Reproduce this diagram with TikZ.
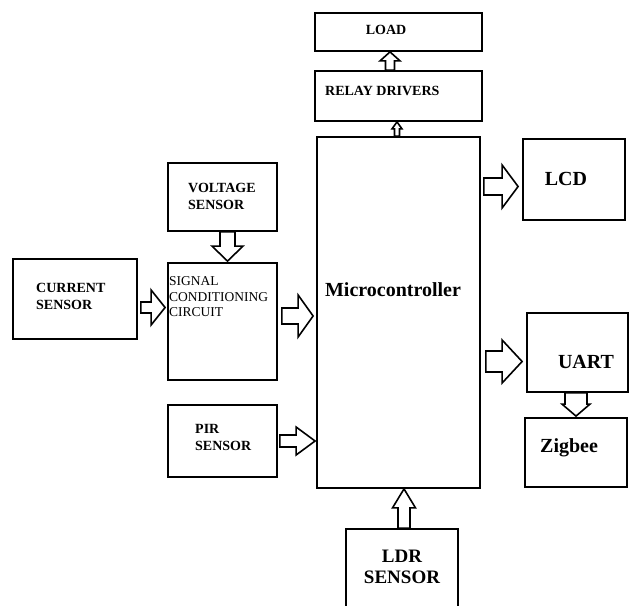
\documentclass[tikz,border=0pt]{standalone}
\usepackage{fontspec}
\setmainfont{Liberation Serif}
\usetikzlibrary{calc}

% hollow block arrow: start, end, half shaft, half head, head length (pt)
\newcommand{\blockarrow}[5]{%
  \draw[barr] let \p1=(#1), \p2=(#2),
    \n1={atan2(\y2-\y1,\x2-\x1)}, \n2={veclen(\x2-\x1,\y2-\y1)} in
    ($(\p1)+(\n1+90:#3pt)$) -- ++(\n1:\n2-#5pt) -- ++(\n1+90:#4pt-#3pt) -- (\p2)
    -- ($(\p2)+(\n1+180:#5pt)+(\n1-90:#4pt)$) -- ++(\n1+90:#4pt-#3pt)
    -- ($(\p1)+(\n1-90:#3pt)$) -- cycle;
}

\begin{document}
\begin{tikzpicture}[
  x=1pt, y=-1pt,
  blk/.style={draw=black, line width=1.8pt, inner sep=0pt},
  barr/.style={draw=black, line width=1.6pt, fill=white, line join=miter},
  lbl/.style={font=\fontsize{14}{17}\selectfont\bfseries, inner sep=0pt, align=left},
  big/.style={font=\fontsize{20}{21}\selectfont\bfseries, inner sep=0pt},
  sig/.style={font=\fontsize{13.5}{15.5}\selectfont, inner sep=0pt, align=left}
]
\fill[white] (0,0) rectangle (631,605);
\useasboundingbox (0,0) rectangle (631,605);
\clip (0,0) rectangle (631,605);

% ---- boxes ----
\node[blk, minimum width=167pt, minimum height=38pt]  (load)    at (398.5,32)  {};
\node[blk, minimum width=167pt, minimum height=50pt]  (relay)   at (398.5,96)  {};
\node[blk, minimum width=163pt, minimum height=351pt] (micro)   at (398.5,312.5) {};
\node[blk, minimum width=102pt, minimum height=81pt]  (lcd)     at (574,179.5) {};
\node[blk, minimum width=101pt, minimum height=79pt]  (uart)    at (577.5,352.5) {};
\node[blk, minimum width=102pt, minimum height=69pt]  (zigbee)  at (576,452.5) {};
\node[blk, minimum width=112pt, minimum height=86pt]  (ldr)     at (402,572)   {};
\node[blk, minimum width=109pt, minimum height=68pt]  (voltage) at (222.5,197) {};
\node[blk, minimum width=109pt, minimum height=117pt] (signal)  at (222.5,321.5) {};
\node[blk, minimum width=124pt, minimum height=80pt]  (current) at (75,299)    {};
\node[blk, minimum width=109pt, minimum height=72pt]  (pir)     at (222.5,441) {};

% ---- texts ----
\node[lbl, anchor=base]      (loadtxt)    at (386,34)    {LOAD};
\node[lbl, anchor=base west] (relaytxt)   at (325,95)    {RELAY DRIVERS};
\node[lbl, anchor=west]      (voltagetxt) at (188,196.5) {VOLTAGE\\SENSOR};
\node[sig, anchor=west]      (signaltxt)  at (169,297)   {SIGNAL\\CONDITIONING\\CIRCUIT};
\node[lbl, anchor=west]      (currenttxt) at (36,296.5)  {CURRENT\\SENSOR};
\node[lbl, anchor=west]      (pirtxt)     at (195,437.5) {PIR\\SENSOR};
\node[big, anchor=base]      (microtxt)   at (393,296)   {Microcontroller};
\node[big, anchor=base]      (lcdtxt)     at (566,185)   {LCD};
\node[big, anchor=base]      (uarttxt)    at (586,368)   {UART};
\node[big, anchor=base west] (zigbeetxt)  at (540,452)   {Zigbee};
\node[big, align=center, font=\fontsize{19}{21}\selectfont\bfseries]
                             (ldrtxt)     at (402,566.5) {LDR\\SENSOR};

% ---- block arrows ----
\blockarrow{$(relay.north)+(-8.5,0)$}{$(load.south)+(-8.5,0)$}{4.5}{10}{9}
\blockarrow{$(micro.north)+(-1.5,0)$}{$(relay.south)+(-1.5,0)$}{2.5}{5}{7}
\blockarrow{$(voltage.south)+(5,0)$}{$(signal.north)+(5,-1)$}{7.5}{15.5}{15}
\blockarrow{$(current.east)+(3,8.5)$}{$(signal.west |- current.east)+(-2,8.5)$}{5.5}{17.5}{14}
\blockarrow{$(signal.east)+(4,-5.5)$}{$(micro.west |- signal.east)+(-3,-5.5)$}{8}{21}{15}
\blockarrow{$(pir.east)+(2,0)$}{$(micro.west |- pir.east)+(-1,0)$}{6}{14}{19}
\blockarrow{$(micro.east |- lcd.west)+(3,7)$}{$(lcd.west)+(-4,7)$}{8.5}{21.5}{16}
\blockarrow{$(micro.east |- uart.west)+(5,9)$}{$(uart.west)+(-4,9)$}{10.5}{21.5}{20}
\blockarrow{$(uart.south)+(-1.5,0)$}{$(zigbee.north)+(0,-1)$}{11}{14}{12}
\blockarrow{$(ldr.north)+(2,0)$}{$(micro.south -| ldr.north)+(2,0)$}{6}{11.5}{19}

\end{tikzpicture}
\end{document}
